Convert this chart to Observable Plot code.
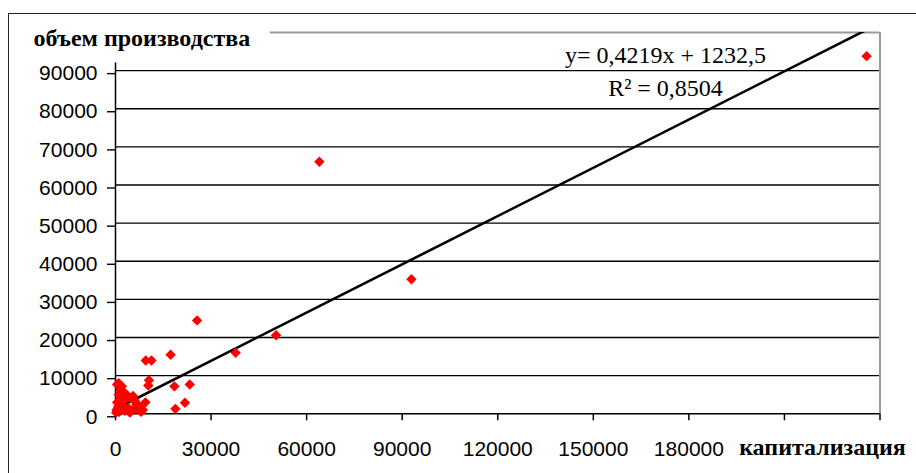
<!DOCTYPE html>
<html>
<head>
<meta charset="utf-8">
<script src="https://cdn.jsdelivr.net/npm/d3@7"></script>
<script src="https://cdn.jsdelivr.net/npm/@observablehq/plot@0.6"></script>
<style>
  html, body { margin: 0; padding: 0; background: #fff; }
  #wrap { position: relative; width: 916px; height: 473px; overflow: hidden; }
  #border { position: absolute; left: 8px; top: 13px; width: 1000px; height: 600px;
            border-left: 1.5px solid #222; border-top: 1.5px solid #222; pointer-events: none; }
</style>
</head>
<body>
<div id="wrap"><div id="border"></div><div id="chart"></div></div>
<script>
// Data
const capitalization = [235800, 64000, 92900, 50400, 37700, 25600, 17300, 9500, 11300, 10500, 10300, 18500, 23300, 21800, 18800, 9400, 8600,
  500, 1000, 2000, 2500, 1500, 3500, 4500, 5500, 6000, 3000, 2000, 1000, 500, 1500, 2500, 4000, 5500, 7000, 6500, 300, 200, 1200, 3000, 4500, 8000, 7500, 800];
const production = [93800, 66100, 35300, 20600, 16000, 24500, 15500, 14000, 14000, 8800, 7400, 7200, 7700, 2900, 1300, 3000, 1000,
  7700, 8000, 7200, 5800, 6300, 5000, 4200, 4700, 3500, 3800, 4500, 5000, 3000, 2500, 2000, 1500, 1000, 1200, 2500, 1000, 300, 500, 800, 300, 500, 2000, 1800];

const trendSlope = 0.4219;
const trendIntercept = 1232.5;
const equationLabel = "y= 0,4219x + 1232,5";
const r2Label = "R² = 0,8504";
const yTitle = "объем производства";
const xTitle = "капитализация";

const yTicks = [0, 10000, 20000, 30000, 40000, 50000, 60000, 70000, 80000, 90000];
const xTicks = [0, 30000, 60000, 90000, 120000, 150000, 180000, 210000, 240000];
const xTickLabels = [0, 30000, 60000, 90000, 120000, 150000, 180000];
const xDomain = [0, 240000];
const yDomain = [0, 100000];

const points = capitalization.map((x, i) => ({x, y: production[i]}));
const xExt = d3.extent(capitalization);
const trend = xExt.map(x => ({x, y: trendSlope * x + trendIntercept}));

const sans = "'Liberation Sans', Arial, sans-serif";
const serif = "'Liberation Serif', 'Times New Roman', serif";

const chart = Plot.plot({
  width: 916,
  height: 473,
  marginLeft: 115,
  marginRight: 36.5,
  marginTop: 32,
  marginBottom: 59.7,
  style: {fontFamily: sans, fontSize: "21px", background: "transparent", color: "#000"},
  x: {domain: xDomain, axis: null},
  y: {domain: yDomain, axis: null},
  marks: [
    // gridlines
    Plot.gridY(yTicks.filter(d => d > 0), {stroke: "#000", strokeOpacity: 1, strokeWidth: 1.4}),
    // plot-area border (gray), top and right
    Plot.ruleY([yDomain[1]], {x1: 48600, x2: xDomain[1], stroke: "#9a9a9a", strokeWidth: 2}),
    Plot.ruleX([xDomain[1]], {y1: yDomain[0], y2: yDomain[1], stroke: "#9a9a9a", strokeWidth: 2}),
    // axes lines
    Plot.ruleX([0], {y1: 0, y2: 92000, stroke: "#000", strokeWidth: 1.5}),
    Plot.ruleY([0], {stroke: "#000", strokeWidth: 1.5}),
    // y axis ticks + labels
    Plot.axisY(yTicks, {label: null, tickSize: 8, tickPadding: 10, tickFormat: d3.format("d"), fontSize: 21, stroke: "#000", strokeWidth: 1.4, dy: 3}),
    // x axis ticks
    Plot.axisX(xTicks, {label: null, tickSize: 7, text: null, stroke: "#000", strokeWidth: 1.5}),
    Plot.axisX(xTickLabels, {label: null, tickSize: 0, tickPadding: 27, tickFormat: d3.format("d"), fontSize: 21}),
    // trend line
    Plot.line(trend, {x: "x", y: "y", stroke: "#000", strokeWidth: 2.6, clip: true}),
    // points
    Plot.dot(points, {x: "x", y: "y", symbol: "diamond2", r: 4.7, fill: "#ff0000", stroke: "none"}),
    // equation
    Plot.text([equationLabel], {frameAnchor: "top-left", lineAnchor: "middle", dx: 550, dy: 23, text: d => d, textAnchor: "middle", fontFamily: serif, fontSize: 24, fill: "#000"}),
    Plot.text([r2Label], {frameAnchor: "top-left", lineAnchor: "middle", dx: 550, dy: 56, text: d => d, textAnchor: "middle", fontFamily: serif, fontSize: 24, fill: "#000"}),
    // axis titles
    Plot.text([yTitle], {frameAnchor: "top-left", lineAnchor: "middle", dx: -82, dy: 6, text: d => d, textAnchor: "start", fontFamily: serif, fontWeight: "bold", fontSize: 24, fill: "#000"}),
    Plot.text([xTitle], {frameAnchor: "bottom-right", lineAnchor: "middle", dx: -57.5, dy: 34, text: d => d, textAnchor: "middle", fontFamily: serif, fontWeight: "bold", fontSize: 24, fill: "#000"})
  ]
});
document.getElementById("chart").appendChild(chart);
</script>
</body>
</html>
